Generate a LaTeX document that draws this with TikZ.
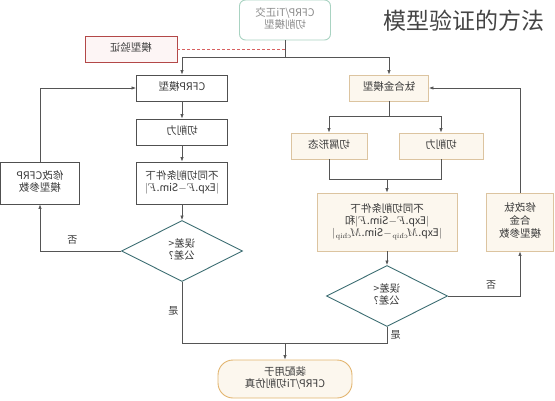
\documentclass[tikz,border=0pt]{standalone}
\usepackage{fontspec}
\newfontfamily\cjk{Noto Sans CJK SC}
\usetikzlibrary{arrows.meta,shapes.geometric}
\newcommand\mir[1]{\reflectbox{\begin{tabular}{@{}c@{}}#1\end{tabular}}}
\definecolor{txt}{HTML}{3A3A3A}
\definecolor{gborder}{HTML}{505050}
\definecolor{tborder}{HTML}{DCC4A0}
\definecolor{tfill}{HTML}{FCF7EE}
\definecolor{dia}{HTML}{3D6E73}
\definecolor{finb}{HTML}{E2B46E}
\definecolor{redb}{HTML}{B34848}
\definecolor{redd}{HTML}{D86060}
\definecolor{redf}{HTML}{FDF5F5}
\definecolor{topb}{HTML}{A9D3C2}
\definecolor{topt}{HTML}{8A8A8A}
\definecolor{conn}{HTML}{555555}
\definecolor{title}{HTML}{444444}
\renewcommand\arraystretch{0.95}
\begin{document}
\begin{tikzpicture}[x=1pt,y=-1pt,
  font=\cjk\fontsize{10.5}{13}\selectfont, text=txt,
  box/.style={rectangle, inner sep=0pt, minimum width=#1},
  gbox/.style={box=#1, draw=gborder, line width=0.9pt, fill=white},
  tbox/.style={box=#1, draw=tborder, line width=0.9pt, fill=tfill},
  dbox/.style={diamond, draw=dia, line width=0.9pt, fill=white, inner sep=0pt, minimum width=121pt, minimum height=61pt},
  line/.style={draw=conn, line width=0.7pt},
  arr/.style={line, -{Latex[length=4.5pt,width=3.5pt]}},
  lab/.style={font=\cjk\fontsize{10}{12}\selectfont}]
\useasboundingbox (0,0) rectangle (555,400);

% title
\node[text=title, font=\cjk\fontsize{23}{23}\selectfont] (title) at (464,21) {模型验证的方法};

% top
\node[box=91pt, minimum height=40pt, draw=topb, line width=0.9pt, rounded corners=6pt, fill=white, text=topt] (top) at (285,20) {\mir{CFRP/Ti正交\\切削模型}};
\node[box=92pt, minimum height=26pt, draw=redb, line width=0.9pt, fill=redf] (verify) at (131,49) {\mir{模型验证}};

% left column
\node[gbox=91pt, minimum height=26pt] (lc) at (182,88) {\mir{CFRP模型}};
\node[gbox=91pt, minimum height=26pt] (lf) at (182,132) {\mir{切削力}};
\node[gbox=91pt, minimum height=42pt] (lb) at (182,183) {\mir{不同切削条件下\\$|$Exp.$F$$-$Sim.$F|$}};
\node[dbox] (ld) at (182,251) {\mir{误差<\\公差?}};
\node[gbox=79pt, minimum height=42pt] (lm) at (40,183) {\mir{修改CFRP\\模型参数}};

% right column
\node[tbox=79pt, minimum height=26pt] (ti) at (389,88) {\mir{钛合金模型}};
\node[tbox=76pt, minimum height=26pt] (rs) at (329,146) {\mir{切屑形态}};
\node[tbox=84pt, minimum height=26pt] (rf) at (441,146) {\mir{切削力}};
\node[tbox=140pt, minimum height=58pt] (rb) at (387,222) {\mir{不同切削条件下\\$|$Exp.$F$$-$Sim.$F|$和\\$|$Exp.$M_{\mathrm{chip}}$$-$Sim.$M_{\mathrm{chip}}|$}};
\node[tbox=67pt, minimum height=58pt] (rm) at (520,222) {\mir{修改钛\\合金\\模型参数}};
\node[dbox] (rd) at (387,296) {\mir{误差<\\公差?}};

% final
\node[box=134pt, minimum height=38pt, draw=finb, line width=0.9pt, fill=tfill, rounded corners=15pt] (fin) at (285,379) {\mir{装配用于\\CFRP/Ti切削仿真}};

% connectors top
\coordinate (j1) at (285,57);
\draw[line] (top.south) -- (j1);
\draw[arr] (j1) -| (lc.north);
\draw[arr] (j1) -| (ti.north);
\draw[draw=redd, line width=0.9pt, dash pattern=on 3pt off 2pt] (verify.east) -- (verify.east -| top.south);

% left connectors
\draw[arr] (lc.south) -- (lf.north);
\draw[arr] (lf.south) -- (lb.north);
\draw[arr] (lb.south) -- (ld.north);
\draw[arr] (ld.west) -| node[pos=0.3, above, lab] {\mir{否}} (lm.south);
\draw[arr] (lm.north) |- (lc.west);

% right connectors
\coordinate (jt) at (389,116);
\draw[line] (ti.south) -- (jt);
\draw[arr] (jt) -| (rs.north);
\draw[arr] (jt) -| (rf.north);
\coordinate (jm) at (387,179);
\draw[line] (rs.south) |- (jm);
\draw[line] (rf.south) |- (jm);
\draw[arr] (jm) -- (rb.north);
\draw[arr] (rb.south) -- (rd.north);
\draw[arr] (rd.east) -| node[pos=0.3, above, lab] {\mir{否}} (rm.south);
\draw[arr] (rm.north) |- (ti.east);

% yes branches
\coordinate (jy) at (285,343);
\draw[line] (ld.south) -- node[left, lab] {\mir{是}} (ld.south |- jy) -- (jy);
\draw[line] (rd.south) -- node[right, lab, pos=0.55] {\mir{是}} (rd.south |- jy) -- (jy);
\draw[arr] (jy) -- (fin.north);
\end{tikzpicture}
\end{document}
